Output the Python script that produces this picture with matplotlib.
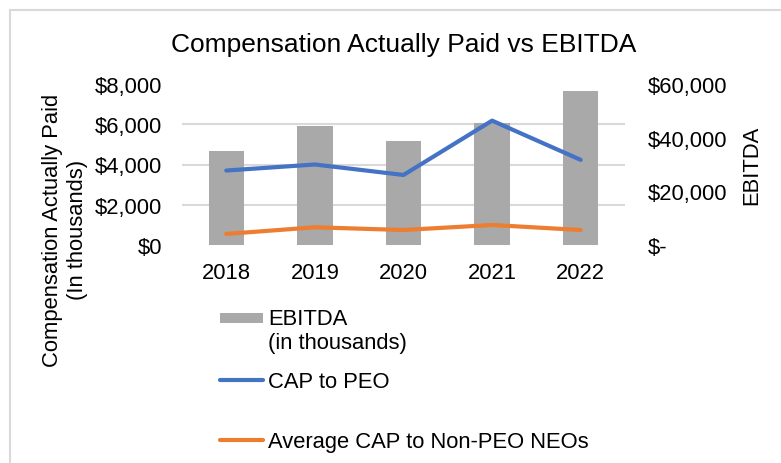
import matplotlib
matplotlib.use("Agg")
import matplotlib.pyplot as plt
import numpy as np
from matplotlib.lines import Line2D
from matplotlib.patches import Rectangle
from matplotlib.container import BarContainer
from matplotlib.legend_handler import HandlerPatch

plt.rcParams['font.family'] = ['Liberation Sans', 'DejaVu Sans']

years = ['2018', '2019', '2020', '2021', '2022']
ebitda = [35000, 44200, 38900, 45500, 57300]      # right axis, in thousands
cap_peo = [3700, 4000, 3480, 6180, 4230]          # left axis
cap_neo = [550, 880, 745, 995, 745]               # left axis

left_ticks = [0, 2000, 4000, 6000, 8000]
left_labels = ['$0', '$2,000', '$4,000', '$6,000', '$8,000']
right_ticks = [0, 20000, 40000, 60000]
right_labels = ['$-', '$20,000', '$40,000', '$60,000']

BLUE = '#4472C4'
ORANGE = '#ED7D31'
GRAY = '#A9A9A9'
GRID = '#D9D9D9'
FS = 15.8

fig = plt.figure(figsize=(7.81, 4.64), dpi=100)
ax = fig.add_axes([182/781, 1-246/464, 443/781, 161/464])
ax2 = ax.twinx()

x = np.arange(len(years))

# bars on the right (EBITDA) scale
bars = ax2.bar(x, ebitda, width=0.4, color=GRAY, zorder=2)
ax2.set_ylim(0, 60000)
ax2.set_yticks(right_ticks)
ax2.set_yticklabels(right_labels, ha='left')
# gridlines follow the left ticks but must sit behind the bars
ax2.set_yticks(np.linspace(0, 60000, len(left_ticks)), minor=True)
ax2.grid(which='minor', axis='y', color=GRID, lw=1.5, zorder=0)
ax2.tick_params(axis='y', which='both', length=0, labelsize=FS, pad=16.5)
ax2.set_ylabel('EBITDA', fontsize=FS)
ax2.yaxis.set_label_coords((752-182)/443, (246-165)/161)
ax2.yaxis.label.set_verticalalignment('center')

# lines on the left (CAP) scale, drawn above the bars
ax.set_zorder(ax2.get_zorder() + 1)
ax.patch.set_visible(False)
l1, = ax.plot(x, cap_peo, color=BLUE, lw=3, solid_capstyle='round')
l2, = ax.plot(x, cap_neo, color=ORANGE, lw=3, solid_capstyle='round')
ax.set_ylim(0, 8000)
ax.set_yticks(left_ticks)
ax.set_yticklabels(left_labels)
ax.set_xlim(-0.5, len(years) - 0.5)
ax.set_xticks(x)
ax.set_xticklabels(years)
ax.tick_params(axis='both', length=0, labelsize=FS)
ax.tick_params(axis='y', pad=14.4)
ax.tick_params(axis='x', pad=12)

for a in (ax, ax2):
    for s in a.spines.values():
        s.set_visible(False)

ax.set_ylabel('Compensation Actually Paid\n(In thousands)', fontsize=FS)
ax.yaxis.set_label_coords((65-182)/443, (246-230)/161)
ax.yaxis.label.set_verticalalignment('center')

ax.set_title('Compensation Actually Paid vs EBITDA', fontsize=19, pad=24)


def bar_handle(legend, orig_handle, xdescent, ydescent, width, height, fontsize):
    # put the swatch next to the first line of the two-line label
    h = 7.2
    y0 = -ydescent + height / 2 - h / 2 + 0.6 * fontsize
    return Rectangle((-xdescent, y0), width, h)


def first_bar(tgt, src):
    tgt.update_from(src.get_children()[0])


leg1 = fig.legend(handles=[bars, l1], labels=['EBITDA\n(in thousands)', 'CAP to PEO'],
                  loc='upper left', bbox_to_anchor=(220/781, 1-309/464),
                  bbox_transform=fig.transFigure, frameon=False, fontsize=FS,
                  borderpad=0, borderaxespad=0, handlelength=1.96, handletextpad=0.23,
                  labelspacing=0.82,
                  handler_map={BarContainer: HandlerPatch(patch_func=bar_handle, update_func=first_bar)})
leg2 = fig.legend(handles=[l2], labels=['Average CAP to Non-PEO NEOs'],
                  loc='center left', bbox_to_anchor=(220/781, 1-443/464),
                  bbox_transform=fig.transFigure, frameon=False, fontsize=FS,
                  borderpad=0, borderaxespad=0, handlelength=1.96, handletextpad=0.23)

# light frame along the top and left edge
fig.add_artist(Line2D([10/781, 1], [1-11/464, 1-11/464], transform=fig.transFigure, color=GRID, lw=1.5))
fig.add_artist(Line2D([10/781, 10/781], [0, 1-11/464], transform=fig.transFigure, color=GRID, lw=1.5))

fig.savefig('out.png', dpi=100)
